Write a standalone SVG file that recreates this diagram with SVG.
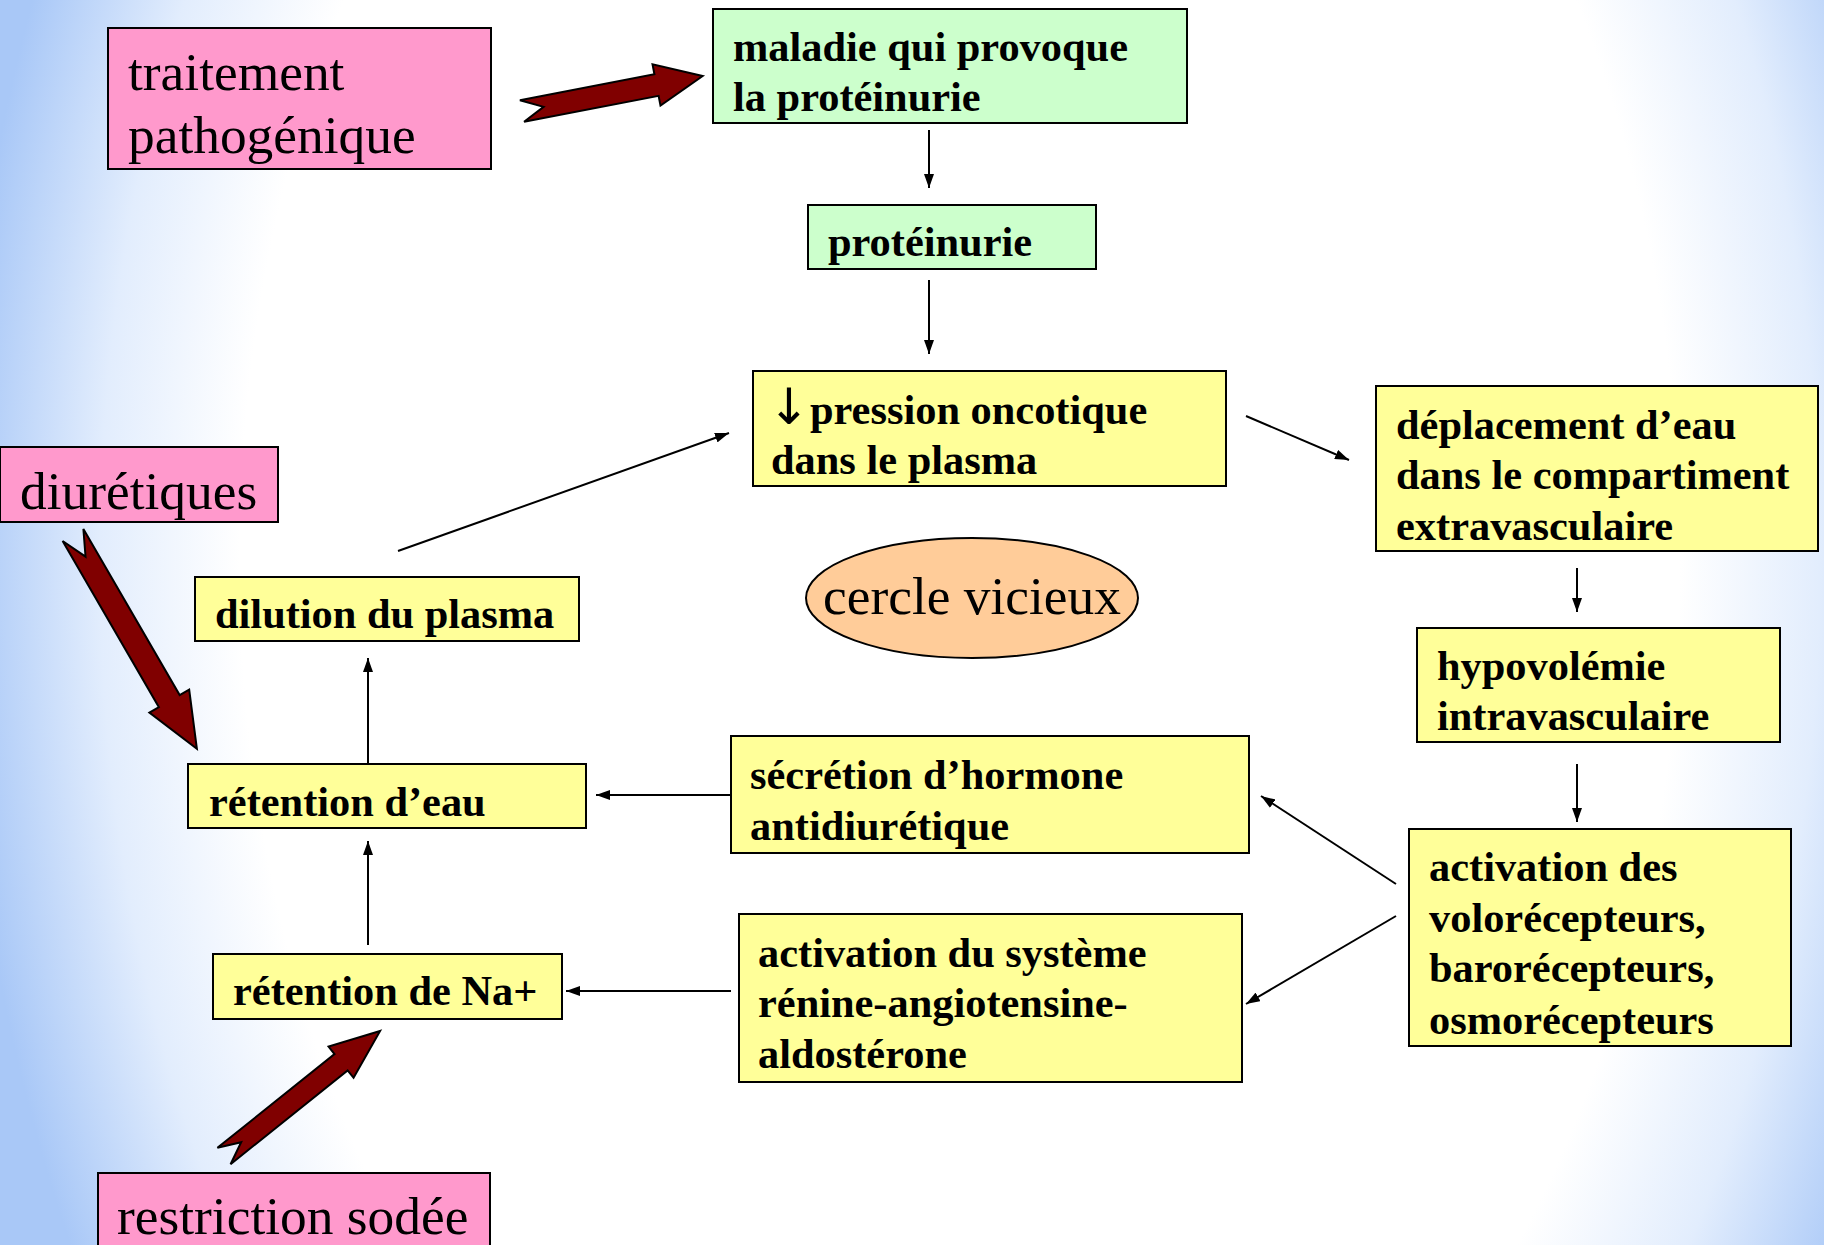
<svg xmlns="http://www.w3.org/2000/svg" width="1824" height="1245" viewBox="0 0 1824 1245">
<defs>
<radialGradient id="bg" gradientUnits="userSpaceOnUse" cx="960" cy="560" r="1000" gradientTransform="translate(960 560) scale(1 1.5) translate(-960 -560)">
<stop offset="0" stop-color="#ffffff"/>
<stop offset="0.72" stop-color="#ffffff"/>
<stop offset="0.86" stop-color="#e2edfd"/>
<stop offset="1" stop-color="#a9c8f7"/>
</radialGradient>
<marker id="ah" markerUnits="userSpaceOnUse" markerWidth="14" markerHeight="10" refX="14" refY="5" orient="auto">
<path d="M0,0 L14,5 L0,10 Z" fill="#000"/>
</marker>
</defs>
<style>
.box{stroke:#000;stroke-width:2}
.pink{fill:#ff99cc}
.green{fill:#ccffcc}
.yellow{fill:#ffff99}
.peach{fill:#ffcc99}
.b{font-family:"Liberation Serif","Times New Roman",serif;font-weight:bold;font-size:42.4px;fill:#000}
.r{font-family:"Liberation Serif","Times New Roman",serif;font-size:53.4px;fill:#000}
.arr{font-family:"DejaVu Sans",sans-serif;font-weight:normal;font-size:50px}
.con{stroke:#000;stroke-width:2;fill:none;marker-end:url(#ah)}
.fat{fill:#800000;stroke:#000;stroke-width:2;stroke-linejoin:miter}
</style>
<rect x="0" y="0" width="1824" height="1245" fill="url(#bg)"/>

<g id="connectors">
<line class="con" x1="929" y1="130" x2="929" y2="188"/>
<line class="con" x1="929" y1="280" x2="929" y2="354"/>
<line class="con" x1="1246" y1="416" x2="1349" y2="460"/>
<line class="con" x1="1577" y1="568" x2="1577" y2="612"/>
<line class="con" x1="1577" y1="764" x2="1577" y2="822"/>
<line class="con" x1="1396" y1="884" x2="1261" y2="796"/>
<line class="con" x1="1396" y1="916" x2="1246" y2="1004"/>
<line class="con" x1="731" y1="795" x2="596" y2="795"/>
<line class="con" x1="731" y1="991" x2="566" y2="991"/>
<line class="con" x1="368" y1="945" x2="368" y2="841"/>
<line class="con" x1="368" y1="763" x2="368" y2="658"/>
<line class="con" x1="398" y1="551" x2="729" y2="433"/>
<path class="fat" transform="translate(522 111) rotate(-10.94)" d="M0,-11 L137,-11 L137,-21 L184,0 L137,21 L137,11 L0,11 L22,0 Z"/>
<path class="fat" transform="translate(73 535) rotate(59.9)" d="M0,-12 L192,-12 L192,-23 L247,0 L192,23 L192,12 L0,12 L25,0 Z"/>
<path class="fat" transform="translate(224 1156) rotate(-38.7)" d="M0,-10.5 L150,-10.5 L150,-20 L200,0 L150,20 L150,10.5 L0,10.5 L22,0 Z"/>
</g>

<g id="traitement">
<rect class="box pink" x="108" y="28" width="383" height="141"/>
<text class="r" x="128" y="90">traitement</text>
<text class="r" x="128" y="153">pathogénique</text>
</g>

<g id="maladie">
<rect class="box green" x="713" y="9" width="474" height="114"/>
<text class="b" x="733" y="61">maladie qui provoque</text>
<text class="b" x="733" y="111">la protéinurie</text>
</g>

<g id="proteinurie">
<rect class="box green" x="808" y="205" width="288" height="64"/>
<text class="b" x="828" y="256">protéinurie</text>
</g>

<g id="pression">
<rect class="box yellow" x="753" y="371" width="473" height="115"/>
<text class="b" x="768" y="424"><tspan class="arr">↓</tspan><tspan x="810">pression oncotique</tspan></text>
<text class="b" x="771" y="474">dans le plasma</text>
</g>

<g id="deplacement">
<rect class="box yellow" x="1376" y="386" width="442" height="165"/>
<text class="b" x="1396" y="439">déplacement d’eau</text>
<text class="b" x="1396" y="489">dans le compartiment</text>
<text class="b" x="1396" y="540">extravasculaire</text>
</g>

<g id="hypovolemie">
<rect class="box yellow" x="1417" y="628" width="363" height="114"/>
<text class="b" x="1437" y="680">hypovolémie</text>
<text class="b" x="1437" y="730">intravasculaire</text>
</g>

<g id="recepteurs">
<rect class="box yellow" x="1409" y="829" width="382" height="217"/>
<text class="b" x="1429" y="881">activation des</text>
<text class="b" x="1429" y="932">volorécepteurs,</text>
<text class="b" x="1429" y="982">barorécepteurs,</text>
<text class="b" x="1429" y="1034">osmorécepteurs</text>
</g>

<g id="secretion">
<rect class="box yellow" x="731" y="736" width="518" height="117"/>
<text class="b" x="750" y="789">sécrétion d’hormone</text>
<text class="b" x="750" y="840">antidiurétique</text>
</g>

<g id="raa">
<rect class="box yellow" x="739" y="914" width="503" height="168"/>
<text class="b" x="758" y="967">activation du système</text>
<text class="b" x="758" y="1017">rénine-angiotensine-</text>
<text class="b" x="758" y="1068">aldostérone</text>
</g>

<g id="retention-eau">
<rect class="box yellow" x="188" y="764" width="398" height="64"/>
<text class="b" x="209" y="816">rétention d’eau</text>
</g>

<g id="retention-na">
<rect class="box yellow" x="213" y="954" width="349" height="65"/>
<text class="b" x="233" y="1005">rétention de Na+</text>
</g>

<g id="dilution">
<rect class="box yellow" x="195" y="577" width="384" height="64"/>
<text class="b" x="215" y="628">dilution du plasma</text>
</g>

<g id="cercle">
<ellipse class="box peach" cx="972" cy="598" rx="166" ry="60"/>
<text class="r" x="972" y="614" text-anchor="middle">cercle vicieux</text>
</g>

<g id="diuretiques">
<rect class="box pink" x="0" y="447" width="278" height="75"/>
<text class="r" x="20" y="509">diurétiques</text>
</g>

<g id="restriction">
<rect class="box pink" x="98" y="1173" width="392" height="80"/>
<text class="r" x="117" y="1234">restriction sodée</text>
</g>
</svg>
